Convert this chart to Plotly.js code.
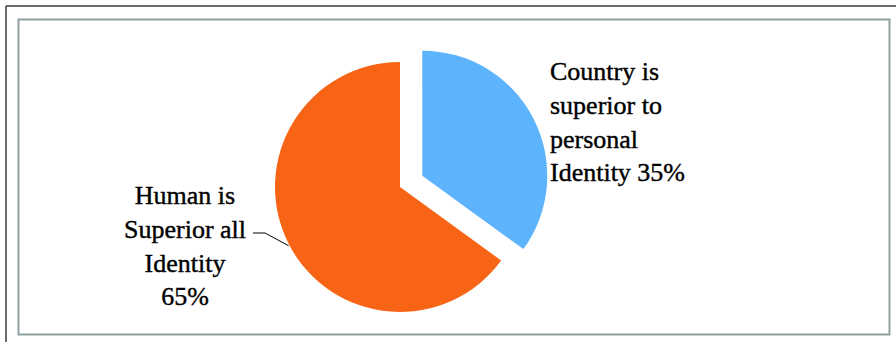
<!DOCTYPE html>
<html>
<head>
<meta charset="utf-8">
<script src="https://cdn.plot.ly/plotly-3.0.1.min.js"></script>
<style>
html,body{margin:0;padding:0;background:#fff;}
#chart{width:896px;height:342px;}
#chart .annotation-text{stroke:#000;stroke-width:0.4px;}
</style>
</head>
<body>
<div id="chart"></div>
<script>
// ---- data ----
const categories = ["Country is superior to personal Identity", "Human is Superior all Identity"];
const values = [35, 65];
const colors = ["#5EB4FC", "#F76416"];
const labelLines = [
  ["Country is", "superior to", "personal", "Identity 35%"],
  ["Human is", "Superior all", "Identity", "65%"]
];
const pulls = [0.2, 0];

// ---- layout geometry (pixels) ----
const W = 896, H = 342;
const cx = 400, cy = 187, r = 125;
const maxPull = Math.max(...pulls);
const half = r * (1 + maxPull);
const px = x => x / W;
const py = y => 1 - y / H;

const total = values.reduce((a, b) => a + b, 0);
// mid angle of the second slice (clockwise from 12 o'clock)
const startFrac = values[0] / total;
const midFrac = startFrac + values[1] / total / 2;
const ang = midFrac * 2 * Math.PI;
const edgeX = cx + r * Math.sin(ang);
const edgeY = cy - r * Math.cos(ang);

const font = {family: "Liberation Serif, Times New Roman, serif", size: 26, color: "#000"};

const data = [{
  type: "pie",
  labels: categories,
  values: values,
  sort: false,
  direction: "clockwise",
  rotation: 0,
  pull: pulls,
  marker: {colors: colors, line: {width: 0}},
  textinfo: "none",
  hoverinfo: "label+percent",
  domain: {x: [px(cx - half), px(cx + half)], y: [py(cy + half), py(cy - half)]}
}];

const layout = {
  width: W, height: H,
  margin: {l: 0, r: 0, t: 0, b: 0},
  paper_bgcolor: "#fff",
  showlegend: false,
  annotations: [
    {xref: "paper", yref: "paper", x: px(548), y: py(55), xanchor: "left", yanchor: "top",
     align: "left", showarrow: false, text: labelLines[0].join("<br>"), font: font},
    {xref: "paper", yref: "paper", x: px(185), y: py(179), xanchor: "center", yanchor: "top",
     align: "center", showarrow: false, text: labelLines[1].join("<br>"), font: font}
  ],
  shapes: [
    // outer border (top & left)
    {type: "line", xref: "paper", yref: "paper", x0: px(6), y0: py(6), x1: px(896), y1: py(6), line: {color: "#3a3a3a", width: 1.5}},
    {type: "line", xref: "paper", yref: "paper", x0: px(6), y0: py(6), x1: px(6), y1: py(342), line: {color: "#3a3a3a", width: 1.5}},
    // inner chart frame
    {type: "rect", xref: "paper", yref: "paper", x0: px(18.5), y0: py(19.5), x1: px(889.5), y1: py(334.5), line: {color: "#8FA2A2", width: 2}},
    // leader line
    {type: "line", xref: "paper", yref: "paper", x0: px(253), y0: py(233), x1: px(265), y1: py(233), line: {color: "#000", width: 1}},
    {type: "line", xref: "paper", yref: "paper", x0: px(265), y0: py(233), x1: px(edgeX), y1: py(edgeY + 2), line: {color: "#000", width: 1}}
  ]
};

Plotly.newPlot("chart", data, layout, {displayModeBar: false, staticPlot: true});
</script>
</body>
</html>
